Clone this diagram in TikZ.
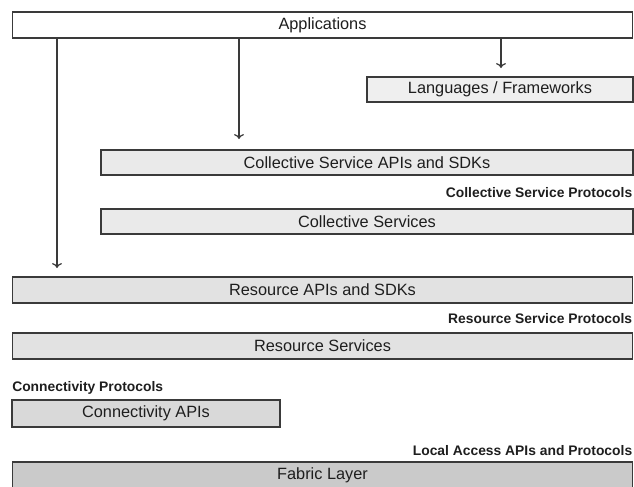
\documentclass[tikz,border=0pt]{standalone}
\usepackage{fontspec}
\setmainfont{Liberation Sans}
\usetikzlibrary{calc,arrows.meta}
\definecolor{edgegray}{HTML}{3A3A3A}
\definecolor{textgray}{HTML}{1E1E1E}
\definecolor{langfill}{HTML}{EFEFEF}
\definecolor{collfill}{HTML}{EAEAEA}
\definecolor{resfill}{HTML}{E2E2E2}
\definecolor{connfill}{HTML}{D9D9D9}
\definecolor{fabfill}{HTML}{CACACA}
\tikzset{layer/.style={draw=edgegray, line width=1.15pt, inner sep=0pt, text=textgray, font=\fontsize{11.6}{13}\selectfont},
         proto/.style={inner sep=0pt, text=textgray, font=\fontsize{9.85}{11}\selectfont\bfseries},
         arr/.style={-{To[length=3.5pt,width=7pt]}, draw=edgegray, line width=0.9pt}}

\begin{document}
\begin{tikzpicture}[x=0.025cm,y=-0.025cm]
  \clip (0,0) rectangle (634,487);
  % layers
  \node[layer, fill=white,    minimum width=15.5cm, minimum height=0.65cm]  (app)     at (322.5, 25.0) {Applications};
  \node[layer, fill=langfill, minimum width=6.65cm, minimum height=0.625cm] (lang)    at (500.0, 89.5) {Languages / Frameworks};
  \node[layer, fill=collfill, minimum width=13.3cm, minimum height=0.625cm] (collapi) at (367.0,162.5) {Collective Service APIs and SDKs};
  \node[layer, fill=collfill, minimum width=13.3cm, minimum height=0.625cm] (collsvc) at (367.0,221.5) {Collective Services};
  \node[layer, fill=resfill,  minimum width=15.5cm, minimum height=0.65cm]  (resapi)  at (322.5,290.0) {Resource APIs and SDKs};
  \node[layer, fill=resfill,  minimum width=15.5cm, minimum height=0.65cm]  (ressvc)  at (322.5,346.0) {Resource Services};
  \node[layer, fill=connfill, minimum width=6.7cm,  minimum height=0.675cm] (connapi) at (146.0,413.5) {Connectivity APIs};
  \node[layer, fill=fabfill,  minimum width=15.5cm, minimum height=0.65cm]  (fabric)  at (322.5,475.0) {Fabric Layer};
  % protocol labels
  \node[proto, anchor=east] (collproto) at (632.5,193) {Collective Service Protocols};
  \node[proto, anchor=east] (resproto)  at (632.5,319) {Resource Service Protocols};
  \node[proto, anchor=west] (connproto) at (12,388)    {Connectivity Protocols};
  \node[proto, anchor=east] (localproto) at (632.5,451) {Local Access APIs and Protocols};
  % arrows out of Applications
  \coordinate (resend)  at (57,268);
  \coordinate (collend) at (239,139);
  \coordinate (langend) at (501,68);
  \draw[arr] (app.south -| resend)  -- (resend);
  \draw[arr] (app.south -| collend) -- (collend);
  \draw[arr] (app.south -| langend) -- (langend);
\end{tikzpicture}
\end{document}
